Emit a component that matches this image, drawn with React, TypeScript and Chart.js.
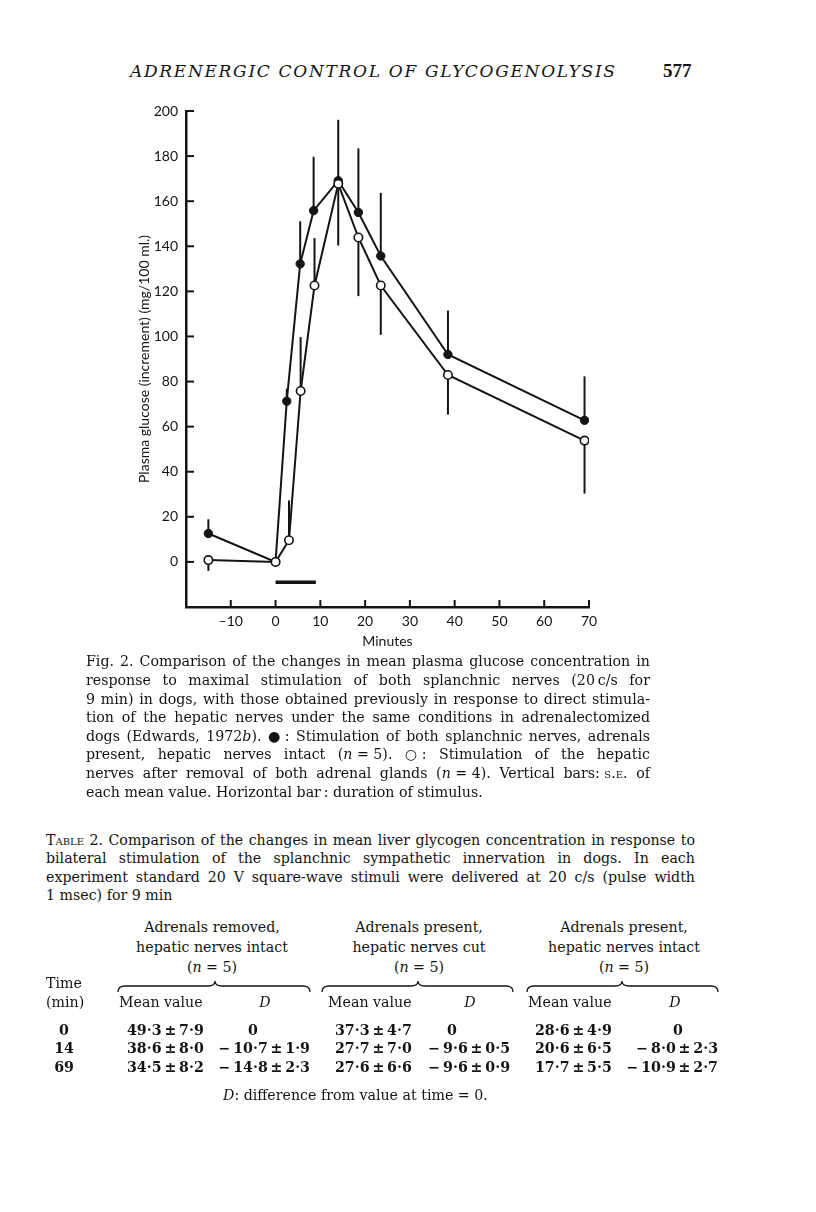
import React, { useEffect, useRef } from "react";
import { Chart, registerables } from "chart.js";

Chart.register(...registerables);

// ---- Chart data ----
// Filled circles: splanchnic stimulation, adrenals present, hepatic nerves intact
const splanchnicMinutes = [-15, 0, 2.5, 5.5, 8.5, 14, 18.5, 23.5, 38.5, 69];
const splanchnicGlucose = [12.6, 0, 71.3, 132.2, 155.8, 169.1, 155, 135.7, 92, 62.8];
const splanchnicSE = [6.3, 0, 5.5, 18.9, 23.9, 27, 28.4, 28, 19.5, 19.5]; // drawn upward

// Open circles: hepatic nerve stimulation after adrenalectomy
const hepaticMinutes = [-15, 0, 3, 5.6, 8.7, 14, 18.5, 23.5, 38.5, 69];
const hepaticGlucose = [0.8, 0, 9.6, 75.8, 122.6, 167.7, 143.9, 122.6, 82.9, 53.8];
const hepaticSE = [-4.8, 0, 17.7, 23.9, 21, -27.4, -26, -21.9, -17.6, -23.5]; // sign = bar direction

// Horizontal bar: duration of stimulus
const stimulusMinutes = [0, 9];
const stimulusLevel = -9;

const xTickValues = [-10, 0, 10, 20, 30, 40, 50, 60, 70];
const yTickValues = [0, 20, 40, 60, 80, 100, 120, 140, 160, 180, 200];

// ---- Table data ----
const tableTimes = ["0", "14", "69"];
const removedMean = ["49·3\u2009±\u20097·9", "38·6\u2009±\u20098·0", "34·5\u2009±\u20098·2"];
const removedD = ["0", "−\u200910·7\u2009±\u20091·9", "−\u200914·8\u2009±\u20092·3"];
const cutMean = ["37·3\u2009±\u20094·7", "27·7\u2009±\u20097·0", "27·6\u2009±\u20096·6"];
const cutD = ["0", "−\u20099·6\u2009±\u20090·5", "−\u20099·6\u2009±\u20090·9"];
const intactMean = ["28·6\u2009±\u20094·9", "20·6\u2009±\u20096·5", "17·7\u2009±\u20095·5"];
const intactD = ["0", "−\u20098·0\u2009±\u20092·3", "−\u200910·9\u2009±\u20092·7"];

const INK = "#141414";
const SANS = 'Lato, "Open Sans", sans-serif';
const SERIF = '"DejaVu Serif", serif';
const TEXT_SIZE = 14.2;

const marksPlugin = {
  id: "marks",
  beforeDatasetsDraw(chart: any) {
    const { ctx, scales } = chart;
    const x = scales.x;
    const y = scales.y;
    ctx.save();
    ctx.strokeStyle = INK;
    ctx.lineWidth = 2;
    const bars = (xs: number[], ys: number[], es: number[]) => {
      for (let i = 0; i < xs.length; i++) {
        if (!es[i]) continue;
        const px = x.getPixelForValue(xs[i]);
        const y0 = y.getPixelForValue(ys[i]);
        const y1 = y.getPixelForValue(ys[i] + es[i]);
        ctx.beginPath();
        ctx.moveTo(px, y0);
        ctx.lineTo(px, y1);
        ctx.stroke();
      }
    };
    bars(splanchnicMinutes, splanchnicGlucose, splanchnicSE);
    bars(hepaticMinutes, hepaticGlucose, hepaticSE);
    ctx.restore();
  },
  afterDraw(chart: any) {
    const { ctx, scales, chartArea } = chart;
    const x = scales.x;
    const y = scales.y;
    ctx.save();
    ctx.strokeStyle = INK;
    ctx.lineWidth = 2;
    const len = 7;
    xTickValues.forEach((v) => {
      const px = x.getPixelForValue(v);
      ctx.beginPath();
      ctx.moveTo(px, chartArea.bottom);
      ctx.lineTo(px, chartArea.bottom - len);
      ctx.stroke();
    });
    yTickValues.forEach((v) => {
      const py = y.getPixelForValue(v);
      ctx.beginPath();
      ctx.moveTo(chartArea.left, py);
      ctx.lineTo(chartArea.left + len + 1, py);
      ctx.stroke();
    });
    ctx.restore();
  },
};

function GlucoseChart() {
  const ref = useRef<HTMLCanvasElement | null>(null);
  useEffect(() => {
    if (!ref.current) return;
    const chart = new Chart(ref.current, {
      type: "line",
      data: {
        datasets: [
          {
            label: "Hepatic nerves, adrenals removed",
            data: hepaticMinutes.map((m, i) => ({ x: m, y: hepaticGlucose[i] })),
            borderColor: INK,
            borderWidth: 2,
            pointRadius: 4.2,
            pointBackgroundColor: "#ffffff",
            pointBorderColor: INK,
            pointBorderWidth: 1.6,
            tension: 0,
          },
          {
            label: "Splanchnic nerves, adrenals present",
            data: splanchnicMinutes.map((m, i) => ({ x: m, y: splanchnicGlucose[i] })),
            borderColor: INK,
            borderWidth: 2,
            pointRadius: 4.2,
            pointBackgroundColor: INK,
            pointBorderColor: INK,
            pointBorderWidth: 1,
            tension: 0,
          },
          {
            label: "Stimulus",
            data: stimulusMinutes.map((m) => ({ x: m, y: stimulusLevel })),
            borderColor: INK,
            borderWidth: 3.5,
            pointRadius: 0,
            borderCapStyle: "butt",
          },
        ],
      } as any,
      options: {
        animation: false,
        responsive: false,
        layout: { padding: { left: 30, top: 21, right: 31, bottom: 0 } },
        plugins: { legend: { display: false }, tooltip: { enabled: false } },
        scales: {
          x: {
            type: "linear",
            min: -20,
            max: 70,
            grid: { display: false, drawTicks: false },
            border: { display: true, color: INK, width: 2.5 },
            ticks: {
              stepSize: 10,
              padding: 6,
              color: INK,
              font: { family: SANS, size: 14 },
              callback: (v: any) =>
                xTickValues.includes(Number(v)) ? (Number(v) < 0 ? "\u2013" + Math.abs(Number(v)) : String(v)) : "",
            },
            title: {
              display: true,
              text: "Minutes",
              color: INK,
              font: { family: SANS, size: 14 },
              padding: { top: 0, bottom: 10 },
            },
            afterFit: (s: any) => {
              s.height = 53;
            },
          },
          y: {
            type: "linear",
            min: -20,
            max: 200,
            grid: { display: false, drawTicks: false },
            border: { display: true, color: INK, width: 2.5 },
            ticks: {
              stepSize: 20,
              padding: 8,
              color: INK,
              font: { family: SANS, size: 14 },
              callback: (v: any) => (yTickValues.includes(Number(v)) ? String(v) : ""),
            },
            title: {
              display: true,
              text: "Plasma glucose (increment) (mg/100 ml.)",
              color: INK,
              font: { family: SANS, size: 14 },
              padding: { top: 6, bottom: 0 },
            },
            afterFit: (s: any) => {
              s.width = 56;
            },
          },
        },
      } as any,
      plugins: [marksPlugin as any],
    });
    return () => chart.destroy();
  }, []);
  return (
    <canvas
      ref={ref}
      width={520}
      height={570}
      style={{ position: "absolute", left: 100, top: 90, width: 520, height: 570, display: "block" }}
    />
  );
}

type TProps = { x: number; y: number; align?: "left" | "center" | "right"; children: React.ReactNode; style?: React.CSSProperties };
function T({ x, y, align = "left", children, style }: TProps) {
  const tx = align === "left" ? "none" : align === "center" ? "translateX(-50%)" : "translateX(-100%)";
  return (
    <div
      style={{
        position: "absolute",
        left: x,
        top: y - 9,
        lineHeight: "18px",
        whiteSpace: "nowrap",
        transform: tx,
        ...style,
      }}
    >
      {children}
    </div>
  );
}

// Split a line into words so flex can justify it
function words(parts: React.ReactNode[]) {
  const out: React.ReactNode[] = [];
  let buf: React.ReactNode[] = [];
  let k = 0;
  const flush = () => {
    if (buf.length) out.push(<span key={k++}>{buf}</span>);
    buf = [];
  };
  parts.forEach((p) => {
    if (typeof p === "string") {
      const toks = p.split(" ");
      toks.forEach((t, i) => {
        if (i > 0) flush();
        if (t) buf.push(t);
      });
    } else {
      buf.push(<React.Fragment key={"f" + k++}>{p}</React.Fragment>);
    }
  });
  flush();
  return out;
}

function JustifiedBlock({ left, top, width, lines, lineHeight }: { left: number; top: number; width: number; lines: React.ReactNode[][]; lineHeight: number }) {
  return (
    <div style={{ position: "absolute", left, top, width, lineHeight: lineHeight + "px" }}>
      {lines.map((ln, i) =>
        i === lines.length - 1 ? (
          <div key={i} style={{ whiteSpace: "nowrap", height: lineHeight }}>
            {ln.map((p, j) => (
              <React.Fragment key={j}>{p}</React.Fragment>
            ))}
          </div>
        ) : (
          <div
            key={i}
            style={{ whiteSpace: "nowrap", height: lineHeight, display: "flex", justifyContent: "space-between" }}
          >
            {words(ln)}
          </div>
        )
      )}
    </div>
  );
}

const I = ({ children }: { children: React.ReactNode }) => <i>{children}</i>;
const SC = ({ children }: { children: React.ReactNode }) => <span style={{ fontVariant: "small-caps" }}>{children}</span>;

const captionLines: React.ReactNode[][] = [
  ["Fig. 2. Comparison of the changes in mean plasma glucose concentration in"],
  ["response to maximal stimulation of both splanchnic nerves (20\u2009c/s for"],
  ["9 min) in dogs, with those obtained previously in response to direct stimula-"],
  ["tion of the hepatic nerves under the same conditions in adrenalectomized"],
  ["dogs (Edwards, 1972", <I>b</I>, "). ●\u00a0: Stimulation of both splanchnic nerves, adrenals"],
  ["present, hepatic nerves intact (", <I>n</I>, "\u00a0=\u00a05). ○\u00a0: Stimulation of the hepatic"],
  ["nerves after removal of both adrenal glands (", <I>n</I>, "\u00a0=\u00a04). Vertical bars:\u00a0", <SC>s.e.</SC>, " of"],
  ["each mean value. Horizontal bar\u2009: duration of stimulus."],
];

const tableTitleLines: React.ReactNode[][] = [
  [<SC>Table</SC>, " 2. Comparison of the changes in mean liver glycogen concentration in response to"],
  ["bilateral stimulation of the splanchnic sympathetic innervation in dogs. In each"],
  ["experiment standard 20 V square-wave stimuli were delivered at 20 c/s (pulse width"],
  ["1 msec) for 9 min"],
];

function Brace({ x0, x1, xm, y }: { x0: number; x1: number; xm: number; y: number }) {
  const d = `M ${x0} ${y + 6} Q ${x0} ${y} ${x0 + 7} ${y} L ${xm - 7} ${y} Q ${xm} ${y} ${xm} ${y - 5} Q ${xm} ${y} ${xm + 7} ${y} L ${x1 - 7} ${y} Q ${x1} ${y} ${x1} ${y + 6}`;
  return <path d={d} fill="none" stroke={INK} strokeWidth={1.3} />;
}

export default function App() {
  const rowsY = [1030, 1048, 1067];
  const bold: React.CSSProperties = { fontWeight: 700 };
  return (
    <div
      style={{
        position: "absolute",
        left: 0,
        top: 0,
        width: 816,
        height: 1212,
        background: "#ffffff",
        color: INK,
        fontFamily: SERIF,
        fontSize: TEXT_SIZE,
        overflow: "hidden",
      }}
    >
      {/* Running head */}
      <div
        style={{
          position: "absolute",
          left: 130,
          top: 61,
          lineHeight: "20px",
          fontStyle: "italic",
          fontSize: 17,
          letterSpacing: 1.7,
          whiteSpace: "nowrap",
        }}
      >
        ADRENERGIC CONTROL OF GLYCOGENOLYSIS
      </div>
      <div
        style={{
          position: "absolute",
          left: 663,
          top: 61,
          lineHeight: "20px",
          fontFamily: '"Liberation Serif", serif',
          fontWeight: 700,
          fontSize: 19,
        }}
      >
        577
      </div>

      <GlucoseChart />

      {/* Figure caption */}
      <JustifiedBlock left={86} top={652.4} width={564} lines={captionLines} lineHeight={18.6} />

      {/* Table title */}
      <JustifiedBlock left={46} top={830.5} width={649} lines={tableTitleLines} lineHeight={18.6} />

      {/* Table headers */}
      <T x={212} y={927} align="center">Adrenals removed,</T>
      <T x={212} y={947} align="center">hepatic nerves intact</T>
      <T x={212} y={967} align="center">(<i>n</i> = 5)</T>
      <T x={419} y={927} align="center">Adrenals present,</T>
      <T x={419} y={947} align="center">hepatic nerves cut</T>
      <T x={419} y={967} align="center">(<i>n</i> = 5)</T>
      <T x={624} y={927} align="center">Adrenals present,</T>
      <T x={624} y={947} align="center">hepatic nerves intact</T>
      <T x={624} y={967} align="center">(<i>n</i> = 5)</T>

      <svg style={{ position: "absolute", left: 0, top: 0 }} width={816} height={1212}>
        <Brace x0={118} x1={310} xm={215} y={986} />
        <Brace x0={322} x1={513} xm={418} y={986} />
        <Brace x0={527} x1={718} xm={622} y={986} />
      </svg>

      <T x={46} y={983}>Time</T>
      <T x={46} y={1002}>(min)</T>
      <T x={119} y={1002}>Mean value</T>
      <T x={265} y={1002} align="center"><i>D</i></T>
      <T x={328} y={1002}>Mean value</T>
      <T x={470} y={1002} align="center"><i>D</i></T>
      <T x={528} y={1002}>Mean value</T>
      <T x={675} y={1002} align="center"><i>D</i></T>

      {rowsY.map((ry, i) => (
        <React.Fragment key={i}>
          <T x={64} y={ry} align="center" style={bold}>{tableTimes[i]}</T>
          <T x={127} y={ry} style={bold}>{removedMean[i]}</T>
          {i === 0 ? (
            <T x={253} y={ry} align="center" style={bold}>{removedD[i]}</T>
          ) : (
            <T x={310} y={ry} align="right" style={bold}>{removedD[i]}</T>
          )}
          <T x={335} y={ry} style={bold}>{cutMean[i]}</T>
          {i === 0 ? (
            <T x={452} y={ry} align="center" style={bold}>{cutD[i]}</T>
          ) : (
            <T x={510} y={ry} align="right" style={bold}>{cutD[i]}</T>
          )}
          <T x={535} y={ry} style={bold}>{intactMean[i]}</T>
          {i === 0 ? (
            <T x={678} y={ry} align="center" style={bold}>{intactD[i]}</T>
          ) : (
            <T x={718} y={ry} align="right" style={bold}>{intactD[i]}</T>
          )}
        </React.Fragment>
      ))}

      <T x={223} y={1095}><i>D</i>: difference from value at time = 0.</T>
    </div>
  );
}
